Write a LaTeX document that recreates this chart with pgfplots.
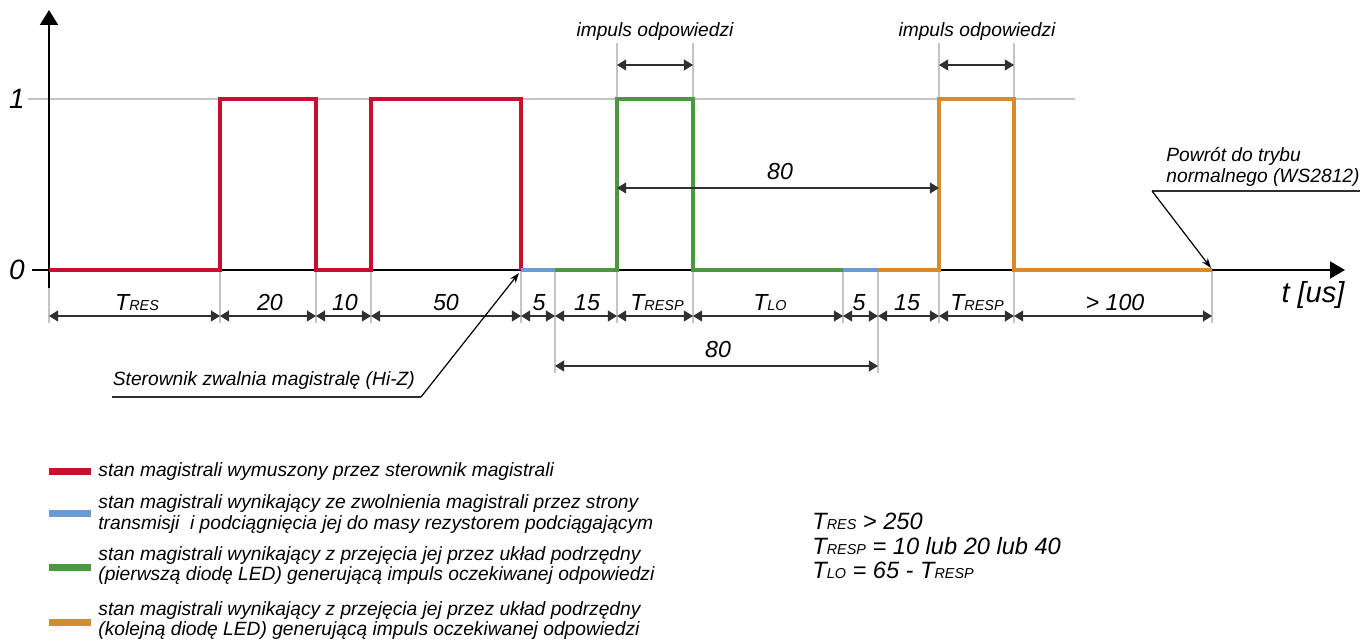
\documentclass[border=0pt]{standalone}
\usepackage{fontspec}
\setmainfont{Liberation Sans}
\usepackage{pgfplots}
\pgfplotsset{compat=1.18}
\usetikzlibrary{arrows.meta}
\definecolor{cred}{HTML}{C8102E}
\definecolor{cblue}{HTML}{6B9BD6}
\definecolor{cgreen}{HTML}{4A993D}
\definecolor{corange}{HTML}{DA8A2B}
\definecolor{cgray}{HTML}{C4C4C4}
\definecolor{cdim}{HTML}{303030}
\newcommand\py[1]{(270-#1)/171}
\newcommand\dimf{\fontsize{11.6}{13}\selectfont\itshape}
\newcommand\formf{\fontsize{11.8}{13}\selectfont\itshape}
\newcommand\sub[1]{{\fontsize{7.2}{8}\selectfont #1}}
\newcommand\txt{\fontsize{9.6}{10.5}\selectfont\itshape}
\tikzset{
  dimarr/.style={cdim, line width=0.7pt, {Triangle[length=4.6pt,width=5.5pt]}-{Triangle[length=4.6pt,width=5.5pt]}},
  extl/.style={cgray, line width=0.6pt},
}
\begin{document}
\begin{tikzpicture}
\begin{axis}[
  width=680.5pt, height=321pt, scale only axis,
  xmin=0, xmax=1361, ymin=-2.17544, ymax=1.57895,
  hide axis, clip=false,
]
\path (axis cs:0,{\py{0}}) rectangle (axis cs:1361,{\py{642}});
% gray guide lines
\draw[extl] (axis cs:28,1) -- (axis cs:1075,1);
\pgfplotsinvokeforeach{49,220,316,371,521,617,693,843,939,1014,1212}{
  \draw[extl] (axis cs:#1,0) -- (axis cs:#1,{\py{323}});
}
\draw[extl] (axis cs:555,0) -- (axis cs:555,{\py{373}});
\draw[extl] (axis cs:878,0) -- (axis cs:878,{\py{373}});
\pgfplotsinvokeforeach{617,693,939,1014}{
  \draw[extl] (axis cs:#1,{\py{43}}) -- (axis cs:#1,1);
}
% axes
\draw[line width=1pt, -{Triangle[length=7.5pt,width=9pt]}] (axis cs:49,{\py{288}}) -- (axis cs:49,{\py{10}});
\draw[line width=1pt, -{Triangle[length=7.5pt,width=8.5pt]}] (axis cs:32,0) -- (axis cs:1345,0);
\node[font=\fontsize{14}{15}\selectfont\itshape] at (axis cs:17,1) {1};
\node[font=\fontsize{14}{15}\selectfont\itshape] at (axis cs:17,0) {0};
\node[font=\fontsize{14.5}{16}\selectfont\itshape, anchor=base, inner sep=0pt] at (axis cs:1313,{\py{303}}) {t [us]};
% signals
\addplot[cred, line width=1.8pt, line join=miter, mark=none] coordinates {(49,0)(220,0)(220,1)(316,1)(316,0)(371,0)(371,1)(521,1)(521,0)};
\addplot[cblue, line width=1.8pt, mark=none] coordinates {(521,0)(555,0)};
\addplot[cgreen, line width=1.8pt, line join=miter, mark=none] coordinates {(555,0)(617,0)(617,1)(693,1)(693,0)(843,0)};
\addplot[cblue, line width=1.8pt, mark=none] coordinates {(843,0)(878,0)};
\addplot[corange, line width=1.8pt, line join=miter, mark=none] coordinates {(878,0)(939,0)(939,1)(1014,1)(1014,0)(1212,0)};
% dimension row
\draw[dimarr] (axis cs:49,{\py{316}}) -- (axis cs:220,{\py{316}});
\draw[dimarr] (axis cs:220,{\py{316}}) -- (axis cs:316,{\py{316}});
\draw[dimarr] (axis cs:316,{\py{316}}) -- (axis cs:371,{\py{316}});
\draw[dimarr] (axis cs:371,{\py{316}}) -- (axis cs:521,{\py{316}});
\draw[dimarr] (axis cs:521,{\py{316}}) -- (axis cs:555,{\py{316}});
\draw[dimarr] (axis cs:555,{\py{316}}) -- (axis cs:617,{\py{316}});
\draw[dimarr] (axis cs:617,{\py{316}}) -- (axis cs:693,{\py{316}});
\draw[dimarr] (axis cs:693,{\py{316}}) -- (axis cs:843,{\py{316}});
\draw[dimarr] (axis cs:843,{\py{316}}) -- (axis cs:878,{\py{316}});
\draw[dimarr] (axis cs:878,{\py{316}}) -- (axis cs:939,{\py{316}});
\draw[dimarr] (axis cs:939,{\py{316}}) -- (axis cs:1014,{\py{316}});
\draw[dimarr] (axis cs:1014,{\py{316}}) -- (axis cs:1212,{\py{316}});
\draw[dimarr] (axis cs:555,{\py{366}}) -- (axis cs:878,{\py{366}});
\draw[dimarr] (axis cs:617,{\py{188}}) -- (axis cs:939,{\py{188}});
\draw[dimarr] (axis cs:617,{\py{65}}) -- (axis cs:693,{\py{65}});
\draw[dimarr] (axis cs:939,{\py{65}}) -- (axis cs:1014,{\py{65}});
% dimension labels
\begin{scope}[every node/.style={font=\dimf, anchor=base, inner sep=0pt}]
\node at (axis cs:137,{\py{311}}) {T\sub{RES}};
\node at (axis cs:270,{\py{311}}) {20};
\node at (axis cs:345,{\py{311}}) {10};
\node at (axis cs:446,{\py{311}}) {50};
\node at (axis cs:539,{\py{311}}) {5};
\node at (axis cs:587,{\py{311}}) {15};
\node at (axis cs:657,{\py{311}}) {T\sub{RESP}};
\node at (axis cs:770,{\py{311}}) {T\sub{LO}};
\node at (axis cs:859,{\py{311}}) {5};
\node at (axis cs:907,{\py{311}}) {15};
\node at (axis cs:977,{\py{311}}) {T\sub{RESP}};
\node at (axis cs:1115,{\py{311}}) {> 100};
\node at (axis cs:718,{\py{358}}) {80};
\node at (axis cs:780,{\py{180}}) {80};
\end{scope}
% annotations
\begin{scope}[every node/.style={font=\txt, inner sep=0pt}]
\node[anchor=base] at (axis cs:655,{\py{37}}) {impuls odpowiedzi};
\node[anchor=base] at (axis cs:977,{\py{37}}) {impuls odpowiedzi};
\node[anchor=base west] at (axis cs:112.5,{\py{386}}) {Sterownik zwalnia magistralę (Hi-Z)};
\node[anchor=base west] at (axis cs:1166,{\py{162}}) {Powrót do trybu};
\node[anchor=base west] at (axis cs:1166,{\py{183}}) {normalnego (WS2812)};
\end{scope}
\draw[cdim, line width=0.6pt] (axis cs:112,{\py{397}}) -- (axis cs:421,{\py{397}});
\draw[black, line width=0.6pt, -{Stealth[length=5pt,width=3.5pt]}] (axis cs:421,{\py{397}}) -- (axis cs:519,{\py{273}});
\draw[cdim, line width=0.6pt] (axis cs:1152,{\py{191}}) -- (axis cs:1360,{\py{191}});
\draw[black, line width=0.6pt, -{Stealth[length=5pt,width=3.5pt]}] (axis cs:1152,{\py{191}}) -- (axis cs:1211,{\py{268}});
% legend
\draw[cred, line width=3.5pt] (axis cs:49,{\py{472}}) -- (axis cs:91,{\py{472}});
\draw[cblue, line width=3.5pt] (axis cs:49,{\py{514}}) -- (axis cs:91,{\py{514}});
\draw[cgreen, line width=3.5pt] (axis cs:49,{\py{568}}) -- (axis cs:91,{\py{568}});
\draw[corange, line width=3.5pt] (axis cs:49,{\py{623}}) -- (axis cs:91,{\py{623}});
\begin{scope}[every node/.style={font=\txt, inner sep=0pt, anchor=base west}]
\node at (axis cs:98,{\py{477}}) {stan magistrali wymuszony przez sterownik magistrali};
\node at (axis cs:98,{\py{509}}) {stan magistrali wynikający ze zwolnienia magistrali przez strony};
\node at (axis cs:98,{\py{530}}) {transmisji\ \ i podciągnięcia jej do masy rezystorem podciągającym};
\node at (axis cs:98,{\py{561}}) {stan magistrali wynikający z przejęcia jej przez układ podrzędny};
\node at (axis cs:98,{\py{581}}) {(pierwszą diodę LED) generującą impuls oczekiwanej odpowiedzi};
\node at (axis cs:98,{\py{616}}) {stan magistrali wynikający z przejęcia jej przez układ podrzędny};
\node at (axis cs:98,{\py{636}}) {(kolejną diodę LED) generującą impuls oczekiwanej odpowiedzi};
\end{scope}
% formulas
\begin{scope}[every node/.style={font=\formf, inner sep=0pt, anchor=base west}]
\node at (axis cs:812,{\py{530}}) {T\sub{RES} > 250};
\node at (axis cs:812,{\py{555}}) {T\sub{RESP} = 10 lub 20 lub 40};
\node at (axis cs:812,{\py{579}}) {T\sub{LO} = 65 - T\sub{RESP}};
\end{scope}
\end{axis}
\end{tikzpicture}
\end{document}
